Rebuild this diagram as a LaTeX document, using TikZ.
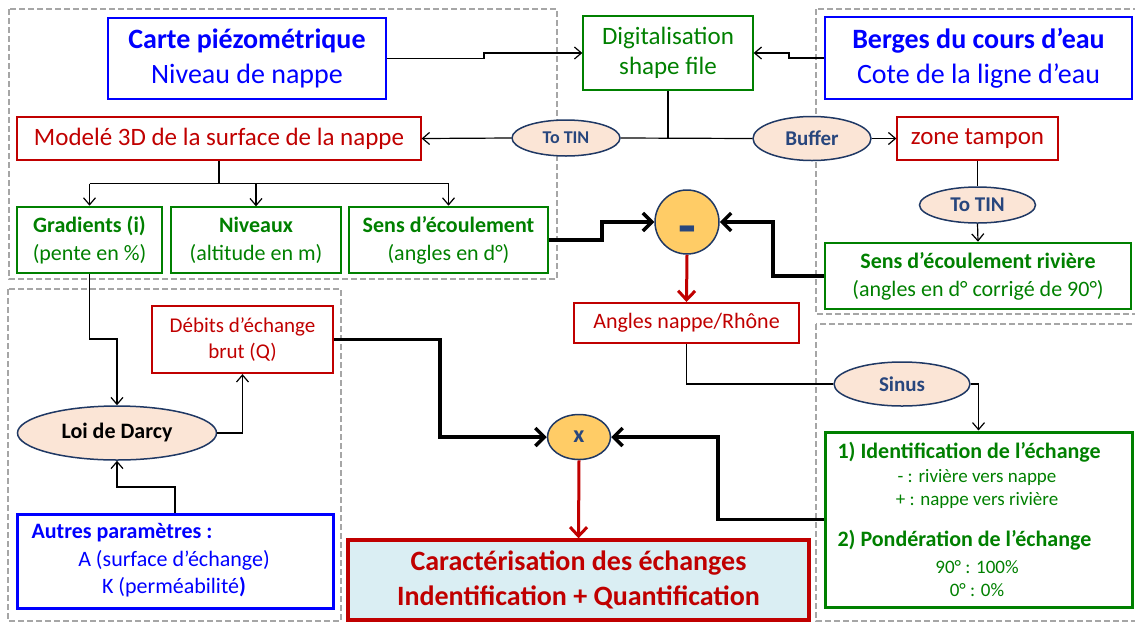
\documentclass[tikz,border=0pt]{standalone}
\usepackage{fontspec}
\setmainfont{Carlito}
\usetikzlibrary{arrows.meta,shapes.geometric}
\definecolor{cblue}{RGB}{0,0,255}
\definecolor{cred}{RGB}{192,0,0}
\definecolor{cgreen}{RGB}{0,128,0}
\definecolor{cgray}{RGB}{166,166,166}
\definecolor{opfill}{RGB}{251,229,214}
\definecolor{opline}{RGB}{31,56,100}
\definecolor{optext}{RGB}{40,70,125}
\definecolor{sumfill}{RGB}{255,204,102}
\definecolor{resfill}{RGB}{218,238,243}
\newcommand{\fsz}[2]{\fontsize{#1}{#2}\selectfont}
\tikzset{
  region/.style={draw=cgray, line width=1.5pt, dash pattern=on 6pt off 3pt},
  box/.style={draw, rectangle, inner sep=0pt, align=center},
  thinbox/.style={box, line width=1.3pt},
  thickbox/.style={box, line width=2.6pt},
  opnode/.style={ellipse, draw=opline, fill=opfill, line width=1.5pt, inner sep=0pt, text=optext, font=\fsz{21}{25}\bfseries},
  sumnode/.style={draw=opline, fill=sumfill, line width=1.5pt, inner sep=0pt, text=optext},
  conn/.style={line width=1.2pt, -{Straight Barb[length=7pt,width=12pt]}},
  plain/.style={line width=1.2pt},
  thickconn/.style={line width=3.4pt, -{Straight Barb[length=9pt,width=18pt]}},
  redconn/.style={draw=cred, line width=3pt, -{Straight Barb[length=9pt,width=17pt]}}
}
\begin{document}
\begin{tikzpicture}[x=1pt,y=-1pt]
\useasboundingbox (0,0) rectangle (1135,622);
\clip (0,0) rectangle (1135,622);
% dashed regions
\draw[region] (9,9) rectangle (557,279);
\draw[region] (8,289) rectangle (341,621);
\draw[region] (816,9) rectangle (1145,314);
\draw[region] (816,324) rectangle (1145,621);

% top boxes
\node[box, draw=cblue, line width=2.6pt, text=cblue, minimum width=278pt, minimum height=81pt, font=\fsz{28}{35}] (carte) at (247,58.5) {\textbf{Carte piézométrique}\\Niveau de nappe};
\node[thinbox, draw=cgreen, text=cgreen, minimum width=170pt, minimum height=74pt, font=\fsz{25}{30}] (dig) at (668,53) {Digitalisation\\shape file};
\node[box, draw=cblue, line width=2.6pt, text=cblue, minimum width=307pt, minimum height=82pt, font=\fsz{28}{35}] (berges) at (978.5,58) {\textbf{Berges du cours d’eau}\\Cote de la ligne d’eau};

% second row
\node[thinbox, draw=cred, text=cred, minimum width=404pt, minimum height=43pt, font=\fsz{25}{30}] (modele) at (219,138.5) {Modelé 3D de la surface de la nappe};
\node[opnode, minimum width=108pt, minimum height=36pt, font=\fsz{18}{22}\bfseries] (tin1) at (566,138) {To TIN};
\node[opnode, minimum width=118pt, minimum height=44pt] (buffer) at (812,138.5) {Buffer};
\node[thinbox, draw=cred, text=cred, minimum width=161pt, minimum height=43pt, font=\fsz{25}{30}] (zone) at (977.5,138.5) {zone tampon};
\node[opnode, minimum width=116pt, minimum height=36pt] (tin2) at (977.5,205) {To TIN};
\node[thickbox, draw=cgreen, text=cgreen, minimum width=306pt, minimum height=66pt, font=\fsz{22}{28}] (rivsens) at (978,276) {\textbf{Sens d’écoulement rivière}\\(angles en d° corrigé de 90°)};

% third row
\node[thickbox, draw=cgreen, text=cgreen, minimum width=145pt, minimum height=66pt, font=\fsz{22}{28}] (grad) at (89.5,240) {\textbf{Gradients (i)}\\(pente en \%)};
\node[thinbox, draw=cgreen, text=cgreen, minimum width=170pt, minimum height=66pt, font=\fsz{22}{28}] (niv) at (256,240) {\textbf{Niveaux}\\(altitude en m)};
\node[thickbox, draw=cgreen, text=cgreen, minimum width=199pt, minimum height=66pt, font=\fsz{22}{28}] (sens) at (448.5,240) {\textbf{Sens d’écoulement}\\(angles en d°)};
\node[sumnode, circle, minimum size=64pt] (minus) at (687,222) {};
\node[text=optext, inner sep=0pt, font=\fsz{58}{58}\bfseries] (minustxt) at (687,236) {-};

% middle
\node[box, line width=2pt, draw=cred, text=cred, minimum width=225pt, minimum height=40pt, font=\fsz{22}{26}] (angles) at (686.5,323) {Angles nappe/Rhône};
\node[box, line width=2.2pt, draw=cred, text=cred, minimum width=181pt, minimum height=67pt, font=\fsz{21}{26}] (debits) at (242.5,339.5) {Débits d’échange\\brut (Q)};
\node[opnode, minimum width=199pt, minimum height=54pt, text=black, font=\fsz{22}{26}\bfseries] (darcy) at (117,433) {Loi de Darcy};
\node[opnode, minimum width=136pt, minimum height=44pt] (sinus) at (902,384) {Sinus};
\node[sumnode, ellipse, minimum width=63pt, minimum height=45pt, font=\fsz{24}{28}\bfseries] (xop) at (579,437) {x};

% bottom boxes
\node[box, line width=3pt, draw=cblue, minimum width=316pt, minimum height=94pt] (autres) at (175,561) {};
\node[anchor=west, text=cblue, font=\fsz{22}{26}\bfseries] (aut1) at (28,533) {Autres paramètres :};
\node[text=cblue, font=\fsz{22}{26}] (aut2) at (174,560) {A (surface d’échange)};
\node[text=cblue, font=\fsz{22}{26}] (aut3) at (174,587) {K (perméabilité\textbf{)}};

\node[box, line width=3.4pt, draw=cred, fill=resfill, text=cred, minimum width=461pt, minimum height=80pt, font=\fsz{28}{35}\bfseries] (carac) at (578.5,580) {Caractérisation des échanges\\Indentification + Quantification};

\node[box, line width=3pt, draw=cgreen, minimum width=307pt, minimum height=175pt] (ident) at (978.5,519.5) {};
\node[anchor=west, text=cgreen, font=\fsz{22}{26}\bfseries] (id1) at (834,452) {1) Identification de l’échange};
\node[text=cgreen, font=\fsz{19}{23}] (id2) at (977,477) {- : rivière vers nappe};
\node[text=cgreen, font=\fsz{19}{23}] (id3) at (977,500) {+ : nappe vers rivière};
\node[anchor=west, text=cgreen, font=\fsz{22}{26}\bfseries] (id4) at (834,540) {2) Pondération de l’échange};
\node[text=cgreen, font=\fsz{19}{23}] (id5) at (977,567) {90° : 100\%};
\node[text=cgreen, font=\fsz{19}{23}] (id6) at (977,590) {0° : 0\%};

% connectors
\draw[conn] (carte.east) -- (484,58.5) |- (dig.west);
\draw[conn] (berges.west) -- (789,58) |- (dig.east);
\draw[plain] (dig.south) -- (dig.south |- tin1.center);
\draw[conn] (tin1.west) -- (modele.east);
\draw[plain] (tin1.east) -- (buffer.west);
\draw[conn] (buffer.east) -- (zone.west);
\draw[plain] (zone.south) -- (tin2.north);
\draw[conn] (tin2.south) -- (rivsens.north);

\draw[plain] (modele.south) -- ++(0,23) coordinate (mj);
\draw[plain] (grad.north |- mj) -- (sens.north |- mj);
\draw[conn] (grad.north |- mj) -- (grad.north);
\draw[conn] (niv.north |- mj) -- (niv.north);
\draw[conn] (sens.north |- mj) -- (sens.north);

\draw[thickconn] (sens.east) -- (602,240) |- (minus.west);
\draw[thickconn] (rivsens.west) -- (773,276) |- (minus.east);
\draw[redconn] (minus.south) -- (angles.north);
\draw[plain] (angles.south) |- (sinus.west);
\draw[conn] (sinus.east) -| (ident.north);

\draw[thickconn] (debits.east) -- (440,339.5) |- (xop.west);
\draw[thickconn] (ident.west) -- (718,519.5) |- (xop.east);
\draw[redconn] (xop.south) -- (carac.north);

\draw[conn] (grad.south) -- (89.5,339) -| (darcy.north);
\draw[conn] (darcy.east) -| (debits.south);
\draw[conn] (autres.north) -- (175,487) -| (darcy.south);
\end{tikzpicture}
\end{document}
